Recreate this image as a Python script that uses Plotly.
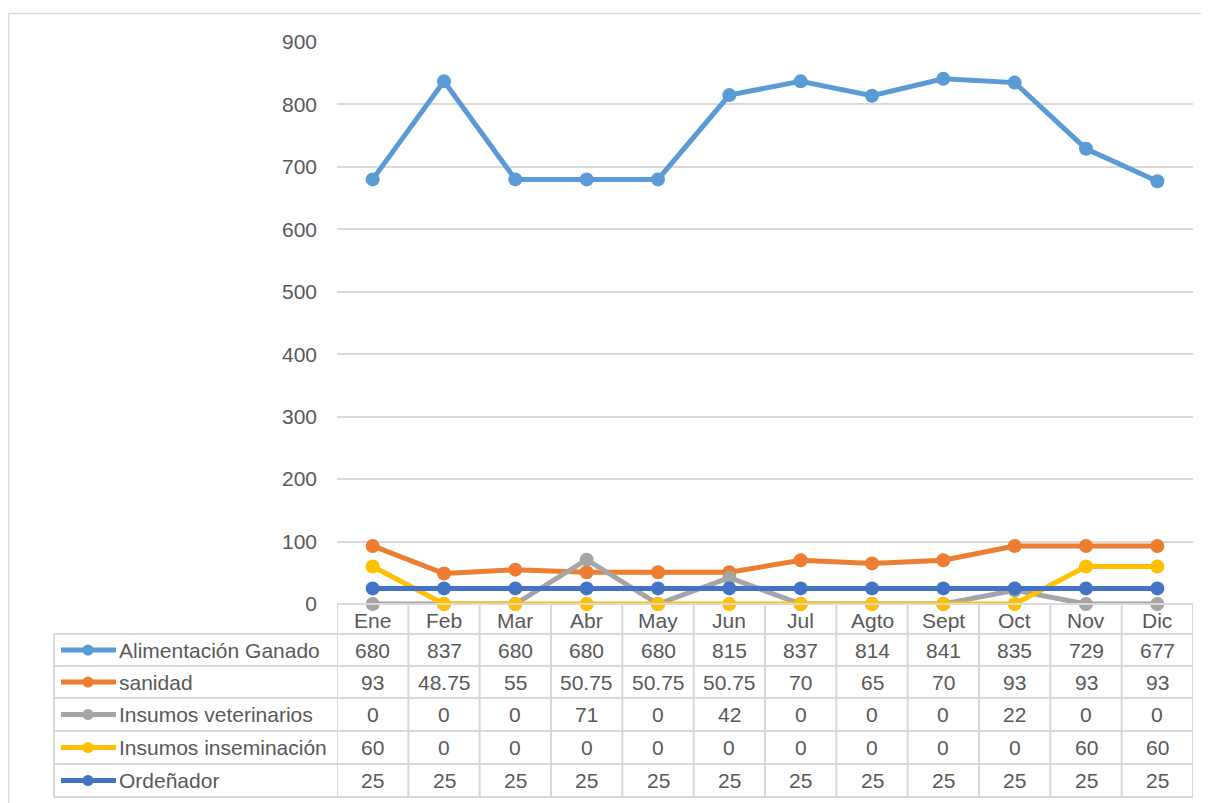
import plotly.graph_objects as go

# page body has an 8px margin; figure sized to fill the rest of the 1209x803 window
OFF = 8
W, H = 1209 - OFF, 803 - OFF

months = ["Ene", "Feb", "Mar", "Abr", "May", "Jun", "Jul", "Agto", "Sept", "Oct", "Nov", "Dic"]
alimentacion = [680, 837, 680, 680, 680, 815, 837, 814, 841, 835, 729, 677]
sanidad = [93, 48.75, 55, 50.75, 50.75, 50.75, 70, 65, 70, 93, 93, 93]
veterinarios = [0, 0, 0, 71, 0, 42, 0, 0, 0, 22, 0, 0]
inseminacion = [60, 0, 0, 0, 0, 0, 0, 0, 0, 0, 60, 60]
ordenador = [25] * 12

series_names = ["Alimentación Ganado", "sanidad", "Insumos veterinarios",
                "Insumos inseminación", "Ordeñador"]
series_values = [alimentacion, sanidad, veterinarios, inseminacion, ordenador]
series_colors = ["#5B9BD5", "#ED7D31", "#A5A5A5", "#FFC000", "#4472C4"]

y_ticks = [0, 100, 200, 300, 400, 500, 600, 700, 800, 900]

FONT = "Liberation Sans, Arial, sans-serif"
FS = 21
TXT = "#595959"
GRID = "#D9D9D9"


def px(x):
    return (x - OFF) / W


def py(y):
    return 1 - (y - OFF) / H


plot_l, plot_r, plot_t, plot_b = 337, 1193, 42, 604
row_edges = [604, 634, 666, 698, 731, 764, 797]
legend_l = 54

fig = go.Figure()
for name, vals, col in zip(series_names, series_values, series_colors):
    fig.add_trace(go.Scatter(
        x=list(range(len(months))), y=vals, name=name, mode="lines+markers",
        line=dict(color=col, width=5), marker=dict(color=col, size=14),
        showlegend=False, cliponaxis=False))

shapes = []
annotations = []

# outer border (top and left edges visible)
shapes.append(dict(type="line", xref="paper", yref="paper",
                   x0=px(8.5), x1=1, y0=py(13.5), y1=py(13.5),
                   line=dict(color=GRID, width=1.5)))
shapes.append(dict(type="line", xref="paper", yref="paper",
                   x0=px(8.5), x1=px(8.5), y0=py(13.5), y1=0,
                   line=dict(color=GRID, width=1.5)))

# table horizontal lines
shapes.append(dict(type="line", xref="x", yref="paper", x0=-0.5, x1=11.5,
                   y0=py(row_edges[0]), y1=py(row_edges[0]),
                   line=dict(color=GRID, width=2)))
for ye in row_edges[1:]:
    shapes.append(dict(type="line", xref="paper", yref="paper",
                       x0=px(legend_l), x1=px(plot_r), y0=py(ye), y1=py(ye),
                       line=dict(color=GRID, width=2)))
# table vertical lines
for k in range(len(months) + 1):
    shapes.append(dict(type="line", xref="x", yref="paper", x0=k - 0.5, x1=k - 0.5,
                       y0=py(row_edges[0]), y1=py(row_edges[-1]),
                       line=dict(color=GRID, width=2)))
shapes.append(dict(type="line", xref="paper", yref="paper", x0=px(legend_l), x1=px(legend_l),
                   y0=py(row_edges[1]), y1=py(row_edges[-1]),
                   line=dict(color=GRID, width=2)))

# header
for i, m in enumerate(months):
    annotations.append(dict(x=i, y=py((row_edges[0] + row_edges[1]) / 2 + 1), xref="x", yref="paper",
                            text=m, showarrow=False, font=dict(family=FONT, size=FS, color=TXT),
                            xanchor="center", yanchor="middle"))

# rows
for r, (name, vals, col) in enumerate(zip(series_names, series_values, series_colors)):
    yc = (row_edges[r + 1] + row_edges[r + 2]) / 2
    shapes.append(dict(type="line", xref="paper", yref="paper", x0=px(61), x1=px(116),
                       y0=py(yc), y1=py(yc), line=dict(color=col, width=5)))
    shapes.append(dict(type="circle", xref="paper", yref="paper",
                       x0=px(88 - 5.5), x1=px(88 + 5.5), y0=py(yc + 5.5), y1=py(yc - 5.5),
                       fillcolor=col, line=dict(color=col, width=0)))
    annotations.append(dict(x=px(117), y=py(yc), xref="paper", yref="paper", text=name,
                            showarrow=False, font=dict(family=FONT, size=FS, color=TXT),
                            xanchor="left", yanchor="middle"))
    for i, v in enumerate(vals):
        annotations.append(dict(x=i, y=py(yc), xref="x", yref="paper", text=f"{v:g}",
                                showarrow=False, font=dict(family=FONT, size=FS, color=TXT),
                                xanchor="center", yanchor="middle"))

fig.update_layout(
    width=W, height=H, margin=dict(l=0, r=0, t=0, b=0, autoexpand=False),
    paper_bgcolor="white", plot_bgcolor="white",
    xaxis=dict(domain=[px(plot_l), px(plot_r)], range=[-0.5, 11.5], showticklabels=False,
               showgrid=False, zeroline=False, showline=False, ticks="", automargin=False),
    yaxis=dict(domain=[py(plot_b), py(plot_t)], range=[0, 900], tickvals=y_ticks,
               showgrid=True, gridcolor=GRID, gridwidth=1.5, zeroline=False, showline=False,
               ticks="", ticklabelstandoff=19, automargin=False,
               tickfont=dict(family=FONT, size=FS, color=TXT)),
    shapes=shapes, annotations=annotations,
)

fig.write_html("out.html")
